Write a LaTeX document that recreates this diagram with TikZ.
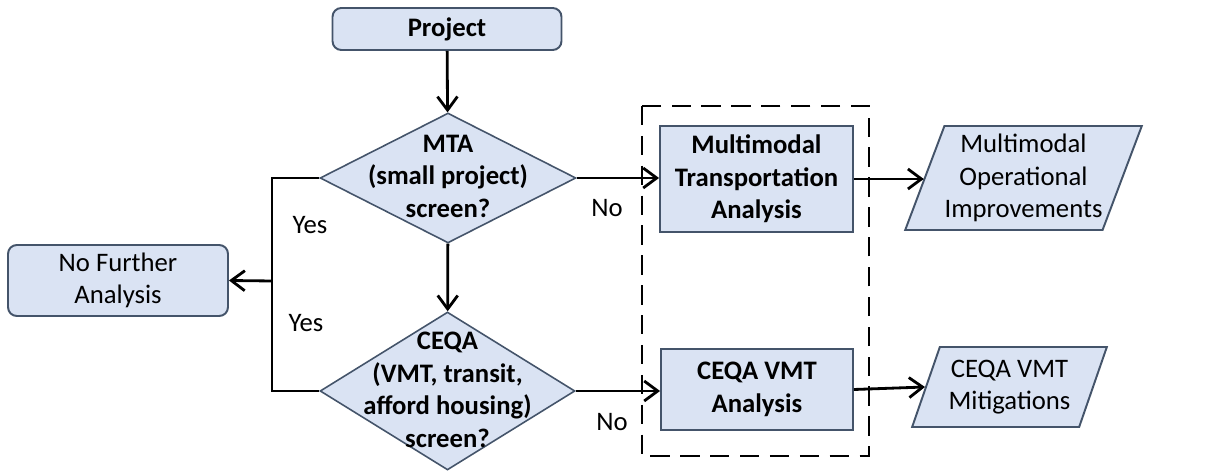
\documentclass[tikz,border=0pt]{standalone}
\usepackage{fontspec}
\setmainfont{Carlito}
\usepackage{tikz}
\usetikzlibrary{arrows.meta,positioning,calc,shapes.geometric}
\usepackage{xcolor}
\definecolor{fbox}{HTML}{DAE3F3}
\definecolor{fedge}{HTML}{44546A}
\newcommand{\chartfont}{\fontsize{15.2}{18.5}\selectfont}
\tikzset{
  termbox/.style  = {draw=fedge, fill=fbox, line width=1.1pt, rectangle,
                     rounded corners=5pt, align=center, inner sep=0pt},
  procbox/.style  = {draw=fedge, fill=fbox, line width=1.1pt, rectangle,
                     align=center, inner sep=0pt, font=\chartfont\bfseries},
  decision/.style = {draw=fedge, fill=fbox, line width=0.9pt, diamond,
                     inner sep=0pt},
  qtext/.style    = {align=center, inner sep=0pt, font=\chartfont\bfseries},
  outbox/.style   = {draw=fedge, fill=fbox, line width=1.1pt, trapezium,
                     trapezium left angle=66, trapezium right angle=114,
                     trapezium stretches=true, align=center, inner sep=0pt},
  wire/.style     = {line width=1.6pt, line join=miter},
  sig/.style      = {wire, -{Straight Barb[length=2.7mm,width=4mm]}},
  tag/.style      = {inner sep=0pt},
}

\begin{document}
\begin{tikzpicture}[x=0.02cm,y=-0.02cm,font=\chartfont]
\useasboundingbox (0,0) rectangle (1215,472);
\node[termbox,font=\chartfont\bfseries,minimum width=4.58cm,minimum height=0.84cm] (proj) at (447,29) {Project};
\node[decision,minimum width=5.12cm,minimum height=2.6cm] (mta) at (448,178) {};
\node[qtext] (mtaq) at (448,176) {MTA\\(small project)\\screen?};
\node[decision,minimum width=5.1cm,minimum height=3.16cm] (ceqa) at (447.5,391) {};
\node[qtext] (ceqaq) at (447.5,390) {CEQA\\(VMT, transit,\\afford housing)\\screen?};
\node[termbox,minimum width=4.4cm,minimum height=1.42cm] (nfa) at (118,280.5) {No Further\\Analysis};
\node[procbox,minimum width=3.86cm,minimum height=2.12cm] (mma) at (756.5,179) {Multimodal\\Transportation\\Analysis};
\node[procbox,minimum width=3.84cm,minimum height=1.62cm] (cva) at (757,389.5) {CEQA VMT\\Analysis};
\node[outbox,minimum width=4.74cm,minimum height=2.08cm] (mmo) at (1023.5,178) {Multimodal\\Operational\\Improvements};
\node[outbox,minimum width=3.9cm,minimum height=1.6cm] (cvo) at (1009.5,387) {CEQA VMT\\Mitigations};
\draw[line width=1.7pt,dash pattern=on 11pt off 6pt] (642,106) rectangle (869,456);

\coordinate (jn) at (272,281);
\draw[sig] (proj) -- (mta);
\draw[sig] (mta) -- (ceqa);
\draw[wire] (mta.west) -| (jn) |- (ceqa.west);
\draw[sig] (jn) -- (nfa.east);
\draw[sig] (mta.east) -- (mta.east -| mma.west);
\draw[sig] (ceqa.east) -- (ceqa.east -| cva.west);
\draw[sig] (mma.east) -- (mma.east -| mmo.west);
\draw[sig] (cva.east) -- (cvo.west);

\node[tag] (yes1) at (310,225) {Yes};
\node[tag] (yes2) at (306,323) {Yes};
\node[tag] (no1) at (607,208) {No};
\node[tag] (no2) at (612,422) {No};
\end{tikzpicture}
\end{document}
